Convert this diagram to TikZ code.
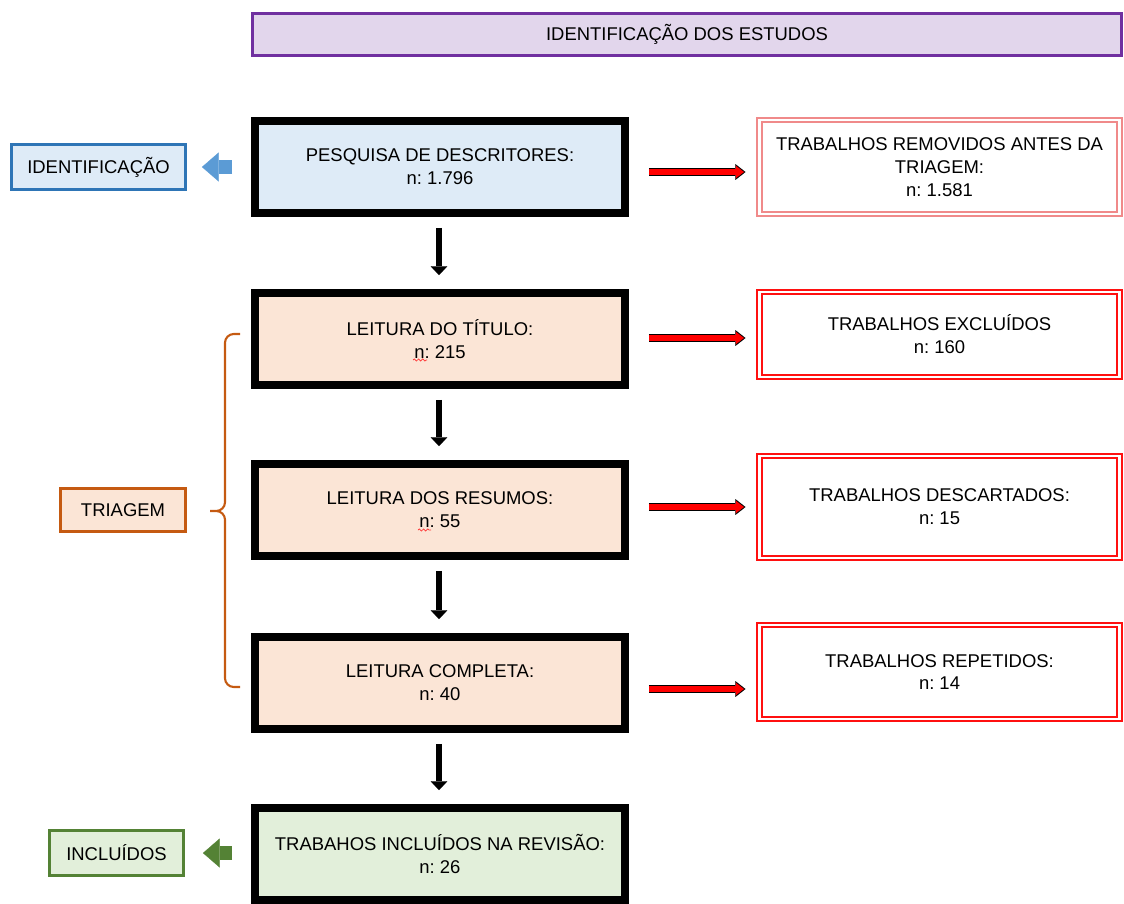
\documentclass[tikz,border=0pt]{standalone}
\usepackage{fontspec}
\setmainfont{Liberation Sans}
\usetikzlibrary{arrows.meta,calc,decorations.pathmorphing}

\definecolor{idblue}{HTML}{2E75B6}
\definecolor{idfill}{HTML}{DEEBF7}
\definecolor{idarrow}{HTML}{5B9BD5}
\definecolor{trorange}{HTML}{C55A11}
\definecolor{trfill}{HTML}{FBE5D6}
\definecolor{ingreen}{HTML}{548235}
\definecolor{infill}{HTML}{E2EFDA}
\definecolor{topviolet}{HTML}{7030A0}
\definecolor{topfill}{HTML}{E2D6EC}
\definecolor{lightred}{HTML}{F08A8A}
\definecolor{outred}{HTML}{FF1010}

\begin{document}
\begin{tikzpicture}[x=0.02cm, y=-0.02cm,
    every node/.style={font=\fontsize{10.5}{13}\selectfont\frenchspacing, align=center, inner sep=0pt},
    mainbox/.style={draw=black, line width=4.5pt, fill=#1,
        minimum width=7.4cm, minimum height=1.84cm},
    outbox/.style={draw=#1, line width=1.2pt, double=white, double distance=1.2pt,
        minimum width=7.2cm},
    sidebox/.style={draw=#1, line width=1.7pt},
    downarrow/.style={draw=black, line width=3.4pt,
        -{Triangle[length=5pt,width=9.5pt,line width=0.1pt]}},
    redarrow/.style={draw=red, line width=3pt, shorten >=0.9pt,
        -{Triangle[length=4.6pt,width=7pt,line width=0.1pt]},
        preaction={draw=black, line width=4.6pt, shorten >=0pt,
            -{Triangle[length=5.8pt,width=9pt,line width=0.1pt]}}},
    fatarrow/.style={draw=#1, line width=8pt,
        -{Triangle[length=9.5pt,width=16.5pt,line width=0.1pt]}}
]
    \useasboundingbox (0,0) rectangle (1124,903);

    % Title bar
    \node[sidebox=topviolet, fill=topfill, minimum width=17.4cm, minimum height=0.84cm]
        (title) at (687,34.5) {IDENTIFICAÇÃO DOS ESTUDOS};

    % Main column
    \node[mainbox=idfill] (p1) at (440,167) {PESQUISA DE DESCRITORES:\\n: 1.796};
    \node[mainbox=trfill] (p2) at (440,339) {LEITURA DO TÍTULO:\\n: 215};
    \node[mainbox=trfill] (p3) at (440,510) {LEITURA DOS RESUMOS:\\n: 55};
    \node[mainbox=trfill] (p4) at (440,683) {LEITURA COMPLETA:\\n: 40};
    \node[mainbox=infill] (p5) at (440,854) {TRABAHOS INCLUÍDOS NA REVISÃO:\\n: 26};

    % Removed studies
    \node[outbox=lightred, minimum height=1.87cm] (r1) at (939.5,167)
        {TRABALHOS REMOVIDOS ANTES DA\\TRIAGEM:\\n: 1.581};
    \node[outbox=outred, minimum height=1.69cm] (r2) at (939.5,334.5)
        {TRABALHOS EXCLUÍDOS\\n: 160};
    \node[outbox=outred, minimum height=2.03cm] (r3) at (939.5,507)
        {TRABALHOS DESCARTADOS:\\n: 15};
    \node[outbox=outred, minimum height=1.87cm] (r4) at (939.5,672)
        {TRABALHOS REPETIDOS:\\n: 14};

    % Stage labels
    \node[sidebox=idblue, fill=idfill, minimum width=3.48cm, minimum height=0.9cm]
        (ident) at (98.5,167) {IDENTIFICAÇÃO};
    \node[sidebox=trorange, fill=trfill, minimum width=2.5cm, minimum height=0.86cm]
        (triag) at (123,510) {TRIAGEM};
    \node[sidebox=ingreen, fill=infill, minimum width=2.68cm, minimum height=0.9cm]
        (incl) at (116.5,853) {INCLUÍDOS};

    % Down arrows
    \foreach \a/\b in {p1/p2, p2/p3, p3/p4, p4/p5}
        \draw[downarrow] ($(\a.south)+(-1,11)$) -- ($(\b.north)+(-1,-14)$);

    % Red arrows
    \foreach \a/\b/\dy in {p1/r1/5, p2/r2/-1, p3/r3/-3, p4/r4/6}
        \draw[redarrow] ($(\a.east)+(20,\dy)$) -- ($(\b.west |- \a.east)+(-13,\dy)$);

    % Side arrows
    \draw[fatarrow=idarrow] ($(p1.west)+(-19,0)$) -- ($(ident.east)+(15,0)$);
    \draw[fatarrow=ingreen] ($(p5.west)+(-19,-1)$) -- ($(incl.east)+(18,0)$);

    % Brace for screening
    \draw[trorange, line width=1.2pt, rounded corners=5pt]
        (240,334) -| (225,511) -- (210,511)
        (240,687) -| (225,511) -- (210,511);

    % Spelling marks
    \draw[red!80, line width=0.4pt, decorate,
        decoration={snake, amplitude=0.6pt, segment length=2.4pt}]
        ($(p2.center)+(-27,21)$) -- ++(14,0);
    \draw[red!80, line width=0.4pt, decorate,
        decoration={snake, amplitude=0.6pt, segment length=2.4pt}]
        ($(p3.center)+(-22,20)$) -- ++(13,0);
\end{tikzpicture}
\end{document}
